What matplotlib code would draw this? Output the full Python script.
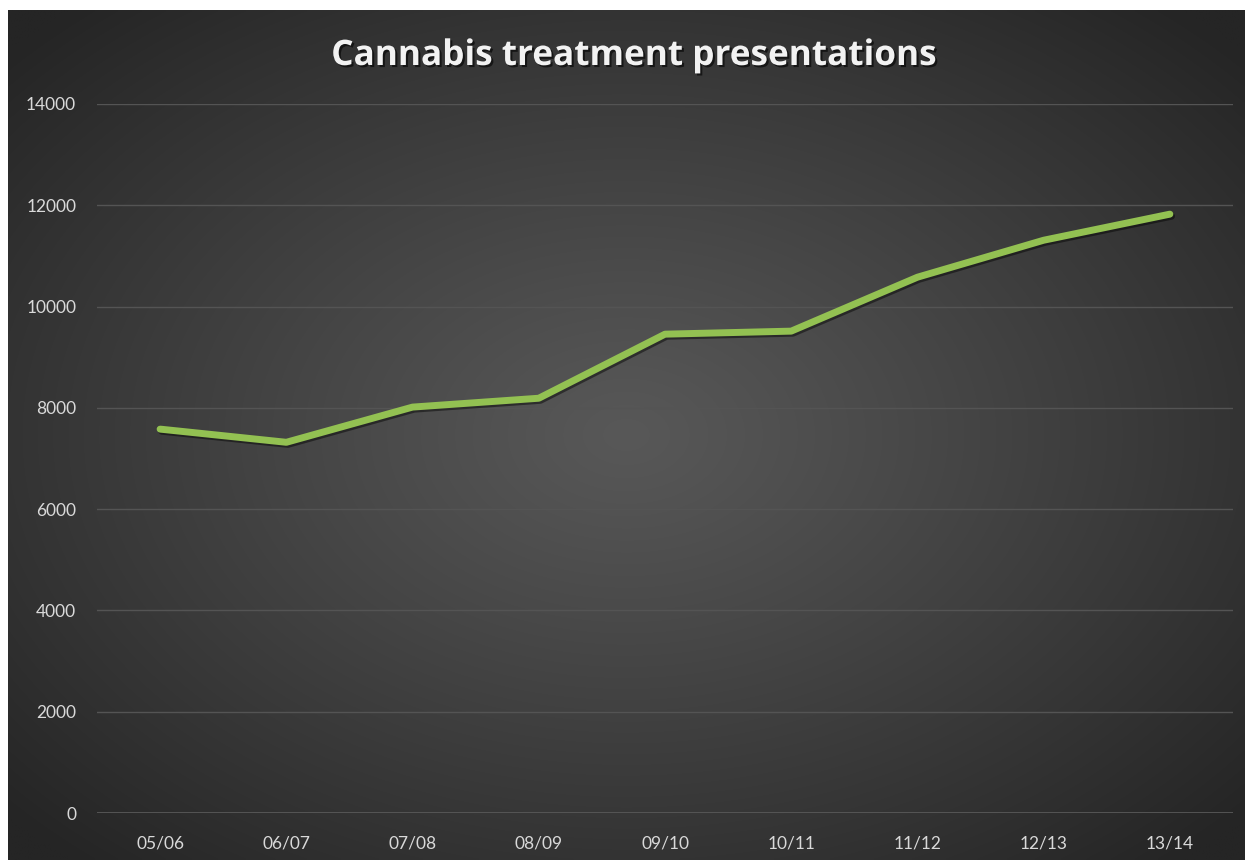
import numpy as np
import matplotlib
matplotlib.use("Agg")
import matplotlib.pyplot as plt
import matplotlib.patheffects as pe

categories = ["05/06", "06/07", "07/08", "08/09", "09/10", "10/11", "11/12", "12/13", "13/14"]
values = [7580, 7320, 8015, 8190, 9455, 9515, 10580, 11310, 11825]
y_ticks = [0, 2000, 4000, 6000, 8000, 10000, 12000, 14000]
title = "Cannabis treatment presentations"

W, H = 1245, 860
fig = plt.figure(figsize=(W / 100, H / 100), dpi=100, facecolor="white")

# gradient background panel
bg = fig.add_axes([8 / W, 0, 1 - 8 / W, 850 / H])
bg.set_axis_off()
nx, ny = 400, 300
xx, yy = np.meshgrid(np.linspace(-1, 1, nx), np.linspace(-1, 1, ny))
r = np.sqrt(xx ** 2 + yy ** 2) / np.sqrt(2)
inner = np.array([0x58, 0x58, 0x58]) / 255
outer = np.array([0x25, 0x25, 0x25]) / 255
t = np.clip(r / 0.95, 0, 1) ** 1.1
img = inner[None, None, :] * (1 - t[..., None]) + outer[None, None, :] * t[..., None]
bg.imshow(img, aspect="auto", extent=[0, 1, 0, 1], interpolation="bilinear")
bg.set_xlim(0, 1)
bg.set_ylim(0, 1)

ax = fig.add_axes([97 / W, (H - 813) / H, (1233 - 97) / W, (813 - 104) / H])
ax.patch.set_alpha(0)
x = np.arange(len(categories))
ax.plot(x, values, color="#93c152", lw=5.0, solid_capstyle="round", solid_joinstyle="round",
        zorder=3,
        path_effects=[pe.SimpleLineShadow(offset=(1.2, -1.5), shadow_color="black", alpha=0.45),
                      pe.Normal()])
ax.set_xlim(-0.5, len(categories) - 0.5)
ax.set_ylim(0, 14000)
ax.set_yticks(y_ticks)
ax.set_yticklabels([str(v) for v in y_ticks])
ax.set_xticks(x)
ax.set_xticklabels(categories)
for s in ax.spines.values():
    s.set_visible(False)
ax.grid(axis="y", color="#545454", lw=1)
ax.set_axisbelow(True)
ax.tick_params(axis="both", length=0, colors="#d9d9d9", labelsize=12.5)
ax.tick_params(axis="y", pad=15)
ax.tick_params(axis="x", pad=16)
for lab in ax.get_xticklabels() + ax.get_yticklabels():
    lab.set_fontfamily("Lato")
ax.axhline(0, color="#5a5a5a", lw=1.2, zorder=2)

fig.text(634 / W, 1 - 65 / H, title, ha="center", va="baseline", color="#f2f2f2",
         fontsize=25.3, fontweight="bold", family="Open Sans",
         path_effects=[pe.withSimplePatchShadow(offset=(1.5, -1.5), shadow_rgbFace="black", alpha=0.6)])

fig.savefig("out.png", dpi=100, facecolor="white")
